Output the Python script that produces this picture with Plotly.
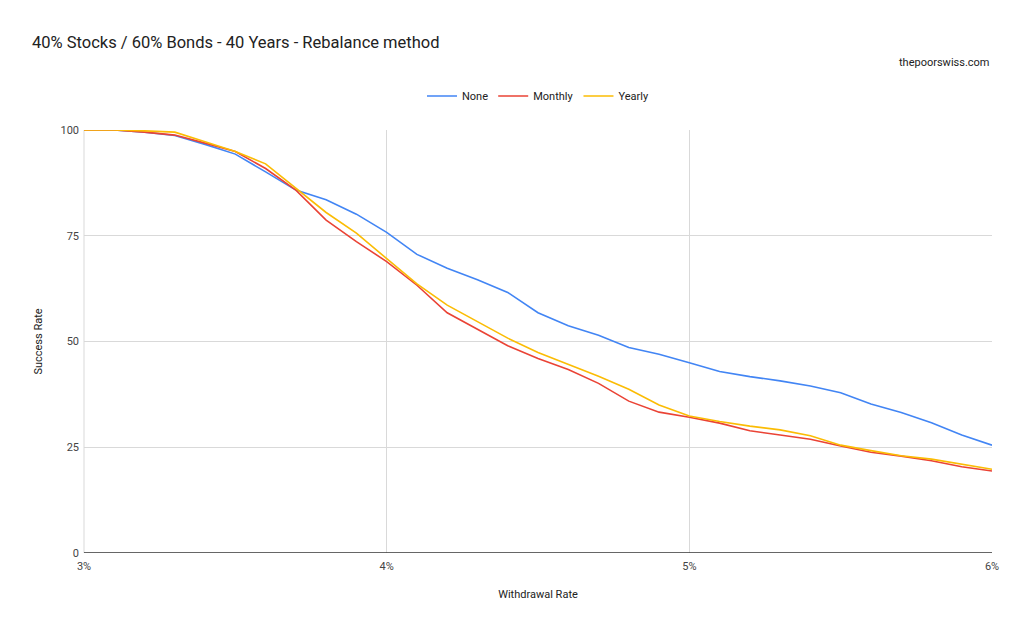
import plotly.graph_objects as go

# withdrawal rate in %, step 0.1
withdrawal_rate = [3.0, 3.1, 3.2, 3.3, 3.4, 3.5, 3.6, 3.7, 3.8, 3.9,
                   4.0, 4.1, 4.2, 4.3, 4.4, 4.5, 4.6, 4.7, 4.8, 4.9,
                   5.0, 5.1, 5.2, 5.3, 5.4, 5.5, 5.6, 5.7, 5.8, 5.9, 6.0]

none_rate = [100, 100, 99.5, 98.7, 96.6, 94.3, 90.1, 85.8, 83.5, 80.1,
             75.8, 70.6, 67.3, 64.6, 61.6, 56.8, 53.7, 51.5, 48.6, 47.0,
             45.0, 42.9, 41.7, 40.7, 39.5, 37.9, 35.2, 33.2, 30.8, 27.9, 25.5]

monthly_rate = [100, 100, 99.5, 98.8, 96.9, 94.9, 90.9, 85.8, 78.7, 73.6,
                68.9, 63.3, 56.8, 52.9, 49.0, 46.0, 43.4, 40.1, 35.9, 33.3,
                32.1, 30.7, 28.9, 27.9, 26.9, 25.3, 23.8, 22.9, 21.8, 20.4, 19.4]

yearly_rate = [100, 100, 99.8, 99.5, 97.2, 94.9, 92.0, 86.2, 80.5, 75.6,
               69.6, 63.6, 58.6, 54.7, 50.8, 47.4, 44.6, 41.8, 38.7, 35.0,
               32.4, 31.1, 30.0, 29.1, 27.7, 25.5, 24.2, 23.0, 22.2, 21.0, 19.8]

series = [
    ('None', none_rate, '#4285F4'),
    ('Monthly', monthly_rate, '#EA4335'),
    ('Yearly', yearly_rate, '#FBBC04'),
]

x_ticks = [3, 4, 5, 6]
x_tick_labels = ['3%', '4%', '5%', '6%']
y_ticks = [0, 25, 50, 75, 100]

FONT = 'Roboto, Arial, sans-serif'
# page body has an 8px margin, so everything is shifted back by 8px
OFF = 8
W, H = 1024, 633
plot_h = 553 - 130

fig = go.Figure()
for name, vals, color in series:
    fig.add_trace(go.Scatter(
        x=withdrawal_rate, y=vals, mode='lines', name=name,
        line=dict(color=color, width=1.6),
    ))

fig.update_layout(
    width=W, height=H,
    margin=dict(l=84 - OFF, r=32 + OFF, t=130 - OFF, b=80 + OFF),
    paper_bgcolor='white', plot_bgcolor='white',
    font=dict(family=FONT, size=11, color='#222222'),
    title=dict(
        text='40% Stocks / 60% Bonds - 40 Years - Rebalance method',
        x=(32 - OFF) / W, xref='container', xanchor='left',
        y=1 - (42 - OFF) / H, yref='container', yanchor='middle',
        font=dict(family=FONT, size=16.5, color='#222222'),
    ),
    legend=dict(
        orientation='h', x=0.5, xanchor='center',
        y=1 + (130 - 96) / plot_h, yanchor='middle',
        font=dict(size=11, color='#222222'),
        itemwidth=30,
    ),
    annotations=[dict(
        text='thepoorswiss.com', xref='paper', yref='paper',
        x=1, xanchor='right', y=1 + (130 - 62) / plot_h, yanchor='middle',
        showarrow=False, font=dict(size=11, color='#222222'),
    )],
    xaxis=dict(
        range=[3, 6], tickvals=x_ticks, ticktext=x_tick_labels,
        showgrid=True, gridcolor='#d9d9d9', gridwidth=1,
        zeroline=False, showline=False,
        title=dict(text='Withdrawal Rate', standoff=18, font=dict(size=11)),
        tickfont=dict(size=11, color='#444444'),
        ticklabelstandoff=5,
    ),
    yaxis=dict(
        range=[0, 100], tickvals=y_ticks,
        showgrid=True, gridcolor='#d9d9d9', gridwidth=1,
        zeroline=False, showline=False,
        title=dict(text='Success Rate', standoff=15, font=dict(size=11)),
        tickfont=dict(size=11, color='#444444'),
        ticklabelstandoff=4,
    ),
    shapes=[
        dict(type='line', xref='paper', yref='y', x0=0, x1=1, y0=0, y1=0,
             line=dict(color='#333333', width=1.5), layer='above'),
        dict(type='line', xref='paper', yref='paper', x0=0, x1=0, y0=0, y1=1,
             line=dict(color='#d9d9d9', width=1), layer='below'),
    ],
)

fig.write_html('out.html')
